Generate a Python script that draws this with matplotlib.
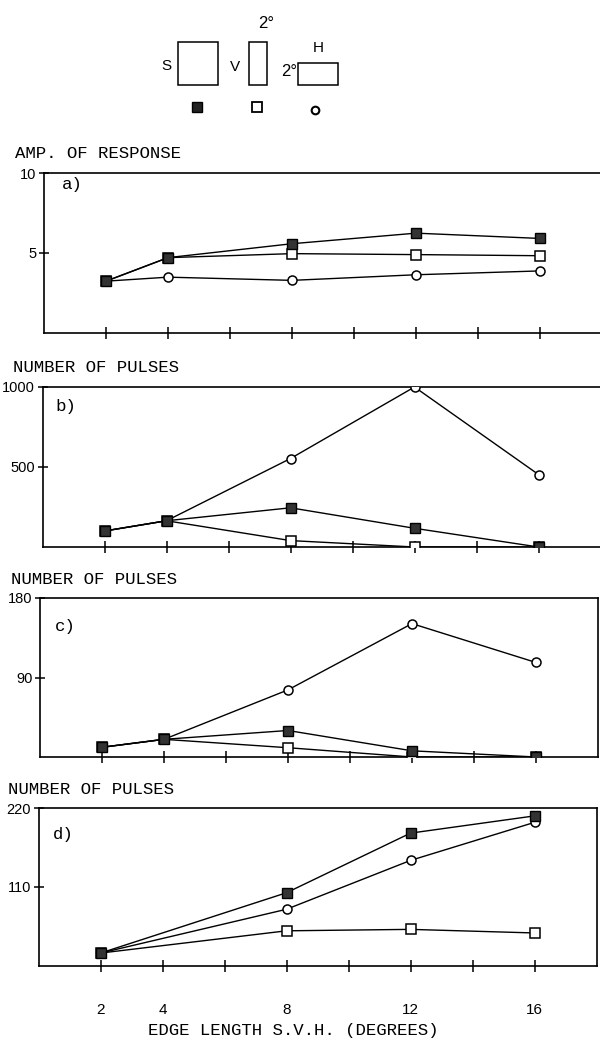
import matplotlib
matplotlib.use("Agg")
import matplotlib.pyplot as plt
from matplotlib.patches import Rectangle

# edge length (degrees) for the S, V and H stimuli
x = [2, 4, 8, 12, 16]

# a) amplitude of response
a_s = [3.24, 4.71, 5.58, 6.24, 5.91]
a_v = [3.24, 4.71, 4.96, 4.90, 4.83]
a_h = [3.24, 3.49, 3.29, 3.64, 3.88]

# b) number of pulses
b_s = [100, 164, 245, 117, 0]
b_v = [100, 164, 40, 0, 0]
b_h = [100, 164, 553, 1000, 453]

# c) number of pulses
c_s = [11, 20, 30, 7, 0]
c_v = [11, 20, 10.5, 0, 0]
c_h = [11, 20, 76, 151, 107]

# d) number of pulses (nothing plotted at 4 degrees)
d_s = [18, None, 102, 185, 209]
d_v = [18, None, 49, 51, 46]
d_h = [18, None, 79, 147, 200]

panel_names = ["a)", "b)", "c)", "d)"]
panel_titles = ["AMP. OF RESPONSE", "NUMBER OF PULSES", "NUMBER OF PULSES", "NUMBER OF PULSES"]
panel_ymax = [10, 1000, 180, 220]
panel_ymid = [5, 500, 90, 110]
xtick_labels = ["2", "4", "", "8", "", "12", "", "16"]
xlabel = "EDGE LENGTH S.V.H. (DEGREES)"

W, H = 600, 1042
MONO = ["Liberation Mono", "DejaVu Sans Mono"]
NARROW = ["Liberation Sans Narrow", "DejaVu Sans Condensed", "Liberation Sans", "DejaVu Sans"]

fig = plt.figure(figsize=(W / 100, H / 100), dpi=100)

# overlay in pixel coordinates for the key, titles and panel letters
ov = fig.add_axes([0, 0, 1, 1])
ov.set_xlim(0, W)
ov.set_ylim(H, 0)
ov.axis("off")
ov.set_zorder(10)

# stimulus key at the top
ov.add_patch(Rectangle((178, 42), 40, 43, fill=False, lw=1.1, ec="black"))
ov.add_patch(Rectangle((249, 42), 18, 43, fill=False, lw=1.1, ec="black"))
ov.add_patch(Rectangle((298, 63), 40, 22, fill=False, lw=1.1, ec="black"))
ov.text(166, 66, "S", family=NARROW, fontsize=11, ha="center", va="center")
ov.text(235, 67, "V", family=NARROW, fontsize=11, ha="center", va="center")
ov.text(318, 48, "H", family=NARROW, fontsize=11, ha="center", va="center")
ov.text(266, 23, "2°", family=NARROW, fontsize=12, ha="center", va="center")
ov.text(289, 72, "2°", family=NARROW, fontsize=12, ha="center", va="center")
ov.plot([197], [107], marker="s", ms=6.5, mfc="#222222", mec="black", ls="none")
ov.plot([257], [107], marker="s", ms=6.5, mfc="white", mec="black", mew=1.3, ls="none")
ov.plot([315], [110], marker="o", ms=5.5, mfc="white", mec="black", mew=1.5, ls="none")

# panel boxes in pixels: left, top, bottom
boxes = [(44, 173, 333), (42.5, 387, 547), (40, 598, 757), (38.5, 808, 966)]
title_pos = [(15, 153), (13, 367), (11, 579), (8, 790)]
name_pos = [(62, 184), (55, 407), (55, 627), (53, 835)]
series = [(a_s, a_v, a_h), (b_s, b_v, b_h), (c_s, c_v, c_h), (d_s, d_v, d_h)]

for i in range(4):
    left, top, bottom = boxes[i]
    ax = fig.add_axes([left / W, 1 - bottom / H, 558 / W, (bottom - top) / H])
    s_vals, v_vals, h_vals = series[i]
    xs = [xv for xv, yv in zip(x, s_vals) if yv is not None]
    sv = [yv for yv in s_vals if yv is not None]
    vv = [yv for yv in v_vals if yv is not None]
    hv = [yv for yv in h_vals if yv is not None]

    ax.plot(xs, hv, color="black", lw=1.0, marker="o", ms=6.5, mfc="white", mec="black", mew=1.1, zorder=3)
    ax.plot(xs, vv, color="black", lw=1.0, marker="s", ms=6.5, mfc="white", mec="black", mew=1.1, zorder=4)
    ax.plot(xs, sv, color="black", lw=1.0, marker="s", ms=6.5, mfc="#333333", mec="black", mew=1.0, zorder=5)

    ax.set_xlim(0, 18)
    ax.set_ylim(0, panel_ymax[i])
    for sp in ax.spines.values():
        sp.set_linewidth(1.2)

    ax.set_xticks(range(2, 17, 2))
    ax.tick_params(axis="x", direction="inout", length=9, width=1.1)
    if i == 3:
        ax.set_xticklabels(xtick_labels, family=NARROW, fontsize=11)
        ax.tick_params(axis="x", pad=22)
    else:
        ax.set_xticklabels([])

    ax.set_yticks([panel_ymid[i], panel_ymax[i]])
    ax.set_yticklabels([str(panel_ymid[i]), str(panel_ymax[i])], family=NARROW, fontsize=10.5)
    ax.tick_params(axis="y", direction="inout", length=7, width=1.1, pad=2)

    tx, ty = title_pos[i]
    ov.text(tx, ty, panel_titles[i], family=MONO, fontsize=12.5, ha="left", va="center")
    nx, ny = name_pos[i]
    ov.text(nx, ny, panel_names[i], family=MONO, fontsize=12.5, ha="left", va="center")

ov.text(293, 1031, xlabel, family=MONO, fontsize=12.5, ha="center", va="center")

fig.savefig("out.png", dpi=100)
